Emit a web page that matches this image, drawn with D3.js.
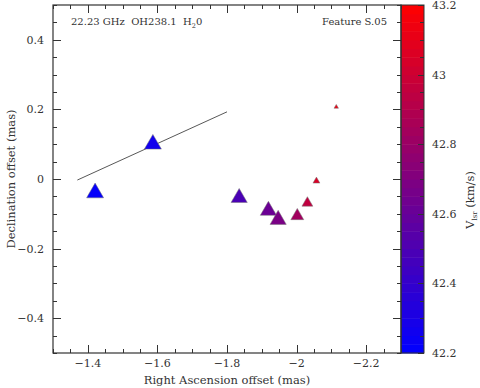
<!DOCTYPE html>
<html>
<head>
<meta charset="utf-8">
<script src="https://cdn.jsdelivr.net/npm/d3@7"></script>
<style>
  body { margin: 0; background: #fff; }
  text { font-family: "DejaVu Serif", serif; fill: #333; white-space: pre; }
</style>
</head>
<body>
<div id="chart"></div>
<script>
// spot data (RA / Dec offsets in mas, Vlsr in km/s, flux in arbitrary units)
var raOffset  = [-1.421, -1.587, -1.835, -1.919, -1.947, -2.002, -2.031, -2.057, -2.114];
var decOffset = [-0.040, 0.100, -0.054, -0.091, -0.117, -0.106, -0.069, -0.006, 0.207];
var vlsr      = [42.22, 42.27, 42.49, 42.62, 42.68, 42.83, 42.95, 43.05, 43.12];
var flux      = [4.2, 4.2, 4.0, 4.0, 4.0, 3.2, 2.7, 1.7, 1.1];

// fitted direction line
var lineRA  = [-1.37, -1.80];
var lineDec = [-0.003, 0.193];

var xTicks = [-1.4, -1.6, -1.8, -2, -2.2];
var yTicks = [-0.4, -0.2, 0, 0.2, 0.4];
var cTicks = [42.2, 42.4, 42.6, 42.8, 43, 43.2];

var W = 480, H = 388,
    pLeft = 53, pRight = 401, pTop = 5, pBottom = 353,
    cbLeft = 401, cbRight = 424,
    axisCol = '#333';

var svg = d3.select('#chart').append('svg')
    .attr('width', W)
    .attr('height', H);

var x = d3.scaleLinear().domain([-1.3, -2.3]).range([pLeft, pRight]),
    y = d3.scaleLinear().domain([-0.5, 0.5]).range([pBottom, pTop]),
    c = d3.scaleLinear().domain([42.2, 43.2]).range([pBottom, pTop]),
    col = d3.scaleLinear().domain([42.2, 43.2]).range(['#0000ff', '#ff0000']),
    side = d3.scaleLinear().domain([0, 4.2]).range([0, 17]);

var fmt = d3.format('~g');

// colour bar as thin bands
var bands = d3.range(42.2, 43.2, 0.025);
svg.append('g').selectAll('rect')
    .data(bands)
  .enter().append('rect')
    .attr('x', cbLeft)
    .attr('width', cbRight - cbLeft)
    .attr('y', function(d){ return c(d + 0.025); })
    .attr('height', function(d){ return c(d) - c(d + 0.025) + 0.5; })
    .attr('fill', function(d){ return col(d + 0.0125); });

// minor tick positions
var xMinor = d3.range(-1.3, -2.3001, -0.05),
    yMinor = d3.range(-0.5, 0.5001, 0.05),
    cMinor = d3.range(42.2, 43.2001, 0.05);

function isMajor(v, list){
  return list.some(function(t){ return Math.abs(t - v) < 1e-6; });
}

var ticks = svg.append('g').attr('stroke', axisCol).attr('stroke-width', 1);

// x ticks bottom (up) and top (down)
xMinor.forEach(function(v){
  var len = isMajor(v, xTicks) ? 8 : 4, px = Math.round(x(v)) + 0.5;
  ticks.append('line').attr('x1', px).attr('x2', px).attr('y1', pBottom).attr('y2', pBottom - len);
  ticks.append('line').attr('x1', px).attr('x2', px).attr('y1', pTop).attr('y2', pTop + len);
});

// y ticks left (right) and right (left)
yMinor.forEach(function(v){
  var len = isMajor(v, yTicks) ? 8 : 4, py = Math.round(y(v)) + 0.5;
  ticks.append('line').attr('x1', pLeft).attr('x2', pLeft + len).attr('y1', py).attr('y2', py);
  ticks.append('line').attr('x1', pRight).attr('x2', pRight - len).attr('y1', py).attr('y2', py);
});

// colour bar ticks on its right edge
cMinor.forEach(function(v){
  var len = isMajor(v, cTicks) ? 6 : 4, py = Math.round(c(v)) + 0.5;
  ticks.append('line').attr('x1', cbRight).attr('x2', cbRight - len).attr('y1', py).attr('y2', py);
});

// frames
svg.append('rect')
    .attr('x', pLeft).attr('y', pTop)
    .attr('width', pRight - pLeft).attr('height', pBottom - pTop)
    .attr('fill', 'none').attr('stroke', axisCol).attr('stroke-width', 1.2);
svg.append('rect')
    .attr('x', cbLeft).attr('y', pTop)
    .attr('width', cbRight - cbLeft).attr('height', pBottom - pTop)
    .attr('fill', 'none').attr('stroke', axisCol).attr('stroke-width', 1);

// tick labels
svg.append('g').selectAll('text')
    .data(xTicks)
  .enter().append('text')
    .attr('x', function(d){ return x(d); })
    .attr('y', pBottom + 14)
    .attr('text-anchor', 'middle')
    .attr('font-size', 11)
    .text(fmt);

svg.append('g').selectAll('text')
    .data(yTicks)
  .enter().append('text')
    .attr('x', pLeft - 9)
    .attr('y', function(d){ return y(d) + 4; })
    .attr('text-anchor', 'end')
    .attr('font-size', 11)
    .text(fmt);

svg.append('g').selectAll('text')
    .data(cTicks)
  .enter().append('text')
    .attr('x', cbRight + 8)
    .attr('y', function(d){ return c(d) + 4; })
    .attr('font-size', 11)
    .text(fmt);

// axis titles
svg.append('text')
    .attr('x', (pLeft + pRight) / 2)
    .attr('y', 384)
    .attr('text-anchor', 'middle')
    .attr('font-size', 11.5)
    .text('Right Ascension offset (mas)');

svg.append('text')
    .attr('transform', 'translate(15,' + (pTop + pBottom) / 2 + ') rotate(-90)')
    .attr('text-anchor', 'middle')
    .attr('font-size', 11.5)
    .text('Declination offset (mas)');

var vl = svg.append('text')
    .attr('transform', 'translate(474,200) rotate(-90)')
    .attr('text-anchor', 'middle')
    .attr('font-size', 11.5);
vl.append('tspan').text('V');
vl.append('tspan').attr('font-size', 7).attr('dy', 3).text('lsr');
vl.append('tspan').attr('dy', -3).text(' (km/s)');

// annotations
var t1 = svg.append('text')
    .attr('x', 71).attr('y', 25)
    .attr('font-size', 10);
t1.append('tspan').text('22.23 GHz  OH238.1  H');
t1.append('tspan').attr('font-size', 6.5).attr('dy', 2.5).text('2');
t1.append('tspan').attr('dy', -2.5).text('0');

svg.append('text')
    .attr('x', 387).attr('y', 25)
    .attr('text-anchor', 'end')
    .attr('font-size', 10)
    .text('Feature S.05');

// fit line
svg.append('line')
    .attr('x1', x(lineRA[0])).attr('y1', y(lineDec[0]))
    .attr('x2', x(lineRA[1])).attr('y2', y(lineDec[1]))
    .attr('stroke', '#444')
    .attr('stroke-width', 0.9);

// spots
var spots = d3.range(raOffset.length).map(function(i){
  return { ra: raOffset[i], dec: decOffset[i], v: vlsr[i], f: flux[i] };
});

svg.append('g').selectAll('path')
    .data(spots)
  .enter().append('path')
    .attr('transform', function(d){ return 'translate(' + x(d.ra) + ',' + y(d.dec) + ')'; })
    .attr('d', function(d){
      var s = side(d.f);
      return d3.symbol(d3.symbolTriangle).size(s * s * Math.sqrt(3) / 4)();
    })
    .attr('fill', function(d){ return col(d.v); })
    .attr('stroke', '#777')
    .attr('stroke-width', 0.5);
</script>
</body>
</html>
